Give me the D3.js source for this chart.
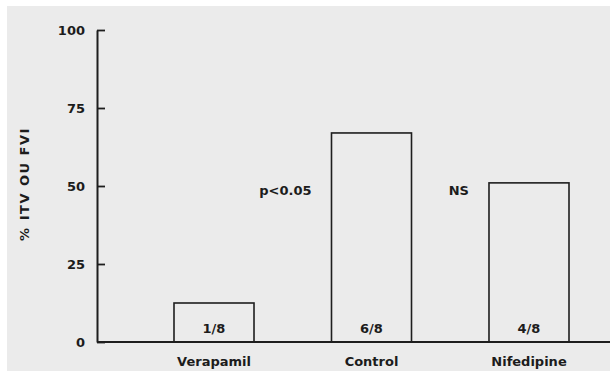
<!DOCTYPE html>
<html>
<head>
<meta charset="utf-8">
<script src="https://cdn.jsdelivr.net/npm/d3@7"></script>
<style>
  html, body { margin: 0; padding: 0; background: #ffffff; }
  svg { display: block; }
  text { font-family: "DejaVu Sans", "Liberation Sans", sans-serif; font-weight: bold; fill: #1c1c1c; }
</style>
</head>
<body>
<script>
// Incidence of ITV or FVI per treatment group
const categories = ["Verapamil", "Control", "Nifedipine"];
const percentValues = [12.5, 67, 51];
const countLabels = ["1/8", "6/8", "4/8"];
const significance = ["", "p<0.05", "NS"];
const yTicks = [0, 25, 50, 75, 100];
const yAxisTitle = "% ITV OU FVI";

const W = 610, H = 371;
const svg = d3.select("body").append("svg").attr("width", W).attr("height", H);

// paper area, slightly grey, with a thin white margin top and left
svg.append("rect").attr("width", W).attr("height", H).attr("fill", "#ffffff");
svg.append("rect").attr("x", 7).attr("y", 6).attr("width", W - 7).attr("height", H - 6).attr("fill", "#ebebeb");

const axisX = 97, baseY = 342, topY = 30;

const y = d3.scaleLinear().domain([0, 100]).range([baseY, topY]);
const x = d3.scaleBand().domain(categories).range([174, 569]).paddingInner(0.492);

const ink = "#1e1e1e";

// Y axis with ticks pointing into the plot
const yAxis = svg.append("g")
  .attr("transform", `translate(${axisX},0)`)
  .call(d3.axisLeft(y).tickValues(yTicks).tickSizeInner(-8).tickSizeOuter(0).tickPadding(12));
yAxis.select(".domain").attr("stroke", ink).attr("stroke-width", 2);
yAxis.selectAll(".tick line").attr("stroke", ink).attr("stroke-width", 1.8);
yAxis.selectAll(".tick text")
  .attr("font-size", 13).attr("font-family", "DejaVu Sans").attr("font-weight", "bold").attr("fill", "#1c1c1c");

// Baseline running to the right edge
svg.append("line")
  .attr("x1", axisX).attr("x2", W).attr("y1", y(0)).attr("y2", y(0))
  .attr("stroke", ink).attr("stroke-width", 2);

// Category labels under the baseline
const xAxis = svg.append("g")
  .attr("transform", `translate(0,${y(0)})`)
  .call(d3.axisBottom(x).tickSize(0).tickPadding(15));
xAxis.select(".domain").remove();
xAxis.selectAll(".tick text")
  .attr("font-size", 13).attr("font-family", "DejaVu Sans").attr("font-weight", "bold").attr("fill", "#1c1c1c");

// Bars drawn as open rectangles
const data = categories.map((c, i) => ({ cat: c, v: percentValues[i], n: countLabels[i], sig: significance[i] }));

svg.append("g").selectAll("rect").data(data).join("rect")
  .attr("x", d => x(d.cat))
  .attr("y", d => y(d.v))
  .attr("width", x.bandwidth())
  .attr("height", d => y(0) - y(d.v))
  .attr("fill", "none")
  .attr("stroke", ink)
  .attr("stroke-width", 1.6);

// Count labels inside each bar
svg.append("g").selectAll("text").data(data).join("text")
  .attr("x", d => x(d.cat) + x.bandwidth() / 2)
  .attr("y", y(0) - 9)
  .attr("text-anchor", "middle")
  .attr("font-size", 13)
  .text(d => d.n);

// Significance notes left of the compared bars
svg.append("g").selectAll("text").data(data.filter(d => d.sig)).join("text")
  .attr("x", d => x(d.cat) - 20)
  .attr("y", y(47))
  .attr("text-anchor", "end")
  .attr("font-size", 13)
  .attr("fill", "#262626")
  .text(d => d.sig);

// Y axis title
svg.append("text")
  .attr("transform", `translate(29,${y(50) - 2}) rotate(-90)`)
  .attr("text-anchor", "middle")
  .attr("font-size", 13)
  .attr("letter-spacing", 1.5)
  .text(yAxisTitle);
</script>
</body>
</html>
